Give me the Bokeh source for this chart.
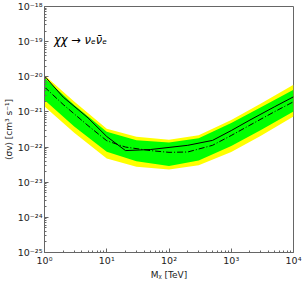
import numpy as np
from bokeh.plotting import figure
from bokeh.models import Range1d, FixedTicker, Label
from bokeh.embed import file_html
from bokeh.resources import INLINE

# Observed limit (solid) and expected median (dash-dot), log10(<sigma v>)
mass_line = [1, 2, 5, 10, 20, 50, 100, 200, 500, 1000, 2000, 5000, 10000]
obs_log = [-19.98, -20.58, -21.17, -21.70, -22.10, -22.07, -22.01, -21.95, -21.81,
           -21.53, -21.23, -20.85, -20.57]
med_log = [-20.29, -20.79, -21.39, -21.82, -22.00, -22.10, -22.15, -22.14, -21.95,
           -21.67, -21.375, -20.99, -20.71]

# Containment bands, log10(<sigma v>)
mass_band = [1, 3, 10, 30, 100, 300, 1000, 3000, 10000]
y2_hi = [-19.955, -20.706, -21.477, -21.706, -21.789, -21.667, -21.227, -20.760, -20.224]
g1_hi = [-20.026, -20.802, -21.562, -21.808, -21.868, -21.752, -21.313, -20.868, -20.366]
g1_lo = [-20.664, -21.417, -22.131, -22.406, -22.537, -22.381, -21.973, -21.517, -20.987]
y2_lo = [-20.848, -21.593, -22.327, -22.557, -22.639, -22.517, -22.143, -21.681, -21.128]

x_ticks = [1, 10, 100, 1000, 10000]
x_tick_labels = ["10⁰", "10¹", "10²", "10³", "10⁴"]
y_ticks = [1e-25, 1e-24, 1e-23, 1e-22, 1e-21, 1e-20, 1e-19, 1e-18]
y_tick_labels = ["10⁻²⁵", "10⁻²⁴", "10⁻²³", "10⁻²²", "10⁻²¹", "10⁻²⁰", "10⁻¹⁹", "10⁻¹⁸"]

FONT = "DejaVu Sans"

p = figure(width=304, height=282, x_axis_type="log", y_axis_type="log",
           x_range=Range1d(1, 1e4), y_range=Range1d(1e-25, 1e-18),
           output_backend="svg", toolbar_location=None,
           min_border_left=43, min_border_right=11, min_border_top=6, min_border_bottom=29)
p.grid.visible = False
p.outline_line_color = "#666666"
p.outline_line_width = 1
p.background_fill_color = "white"
p.border_fill_color = "white"

to_sv = lambda arr: np.power(10.0, np.array(arr))

p.varea(x=mass_band, y1=to_sv(y2_lo), y2=to_sv(y2_hi), color="#ffff00")
p.varea(x=mass_band, y1=to_sv(g1_lo), y2=to_sv(g1_hi), color="#00ff00")
p.line(mass_line, to_sv(obs_log), line_color="black", line_width=1)
p.line(mass_line, to_sv(med_log), line_color="black", line_width=1, line_dash="6 2 1 2")

x_minor = [m * 10 ** d for d in range(0, 4) for m in range(2, 10)]
y_minor = [m * 10.0 ** d for d in range(-25, -18) for m in range(2, 10)]
p.xaxis.ticker = FixedTicker(ticks=x_ticks, minor_ticks=x_minor)
p.yaxis.ticker = FixedTicker(ticks=y_ticks, minor_ticks=y_minor)
p.xaxis.major_label_overrides = {float(t): s for t, s in zip(x_ticks, x_tick_labels)}
p.yaxis.major_label_overrides = {t: s for t, s in zip(y_ticks, y_tick_labels)}

for ax in (p.xaxis, p.yaxis):
    ax.axis_line_color = "#666666"
    ax.major_tick_line_color = "#666666"
    ax.minor_tick_line_color = "#666666"
    ax.major_tick_in = 4
    ax.major_tick_out = 0
    ax.minor_tick_in = 2
    ax.minor_tick_out = 0
    ax.major_label_text_font = FONT
    ax.major_label_text_font_size = "9.5px"
    ax.major_label_text_color = "#222222"
    ax.axis_label_text_font = FONT
    ax.axis_label_text_font_size = "9px"
    ax.axis_label_text_font_style = "normal"
    ax.axis_label_text_color = "#222222"
    ax.major_label_standoff = 2
    ax.axis_label_standoff = 1

p.xaxis.axis_label = "Mᵪ [TeV]"
p.yaxis.axis_label = "⟨σv⟩ [cm³ s⁻¹]"

p.add_layout(Label(x=1.42, y=1.1e-19, text="χχ → νₑν̄ₑ", text_font=FONT,
                   text_font_size="11.5px", text_font_style="italic",
                   text_baseline="middle", text_color="black"))

open("out.html", "w").write(file_html(p, INLINE))
